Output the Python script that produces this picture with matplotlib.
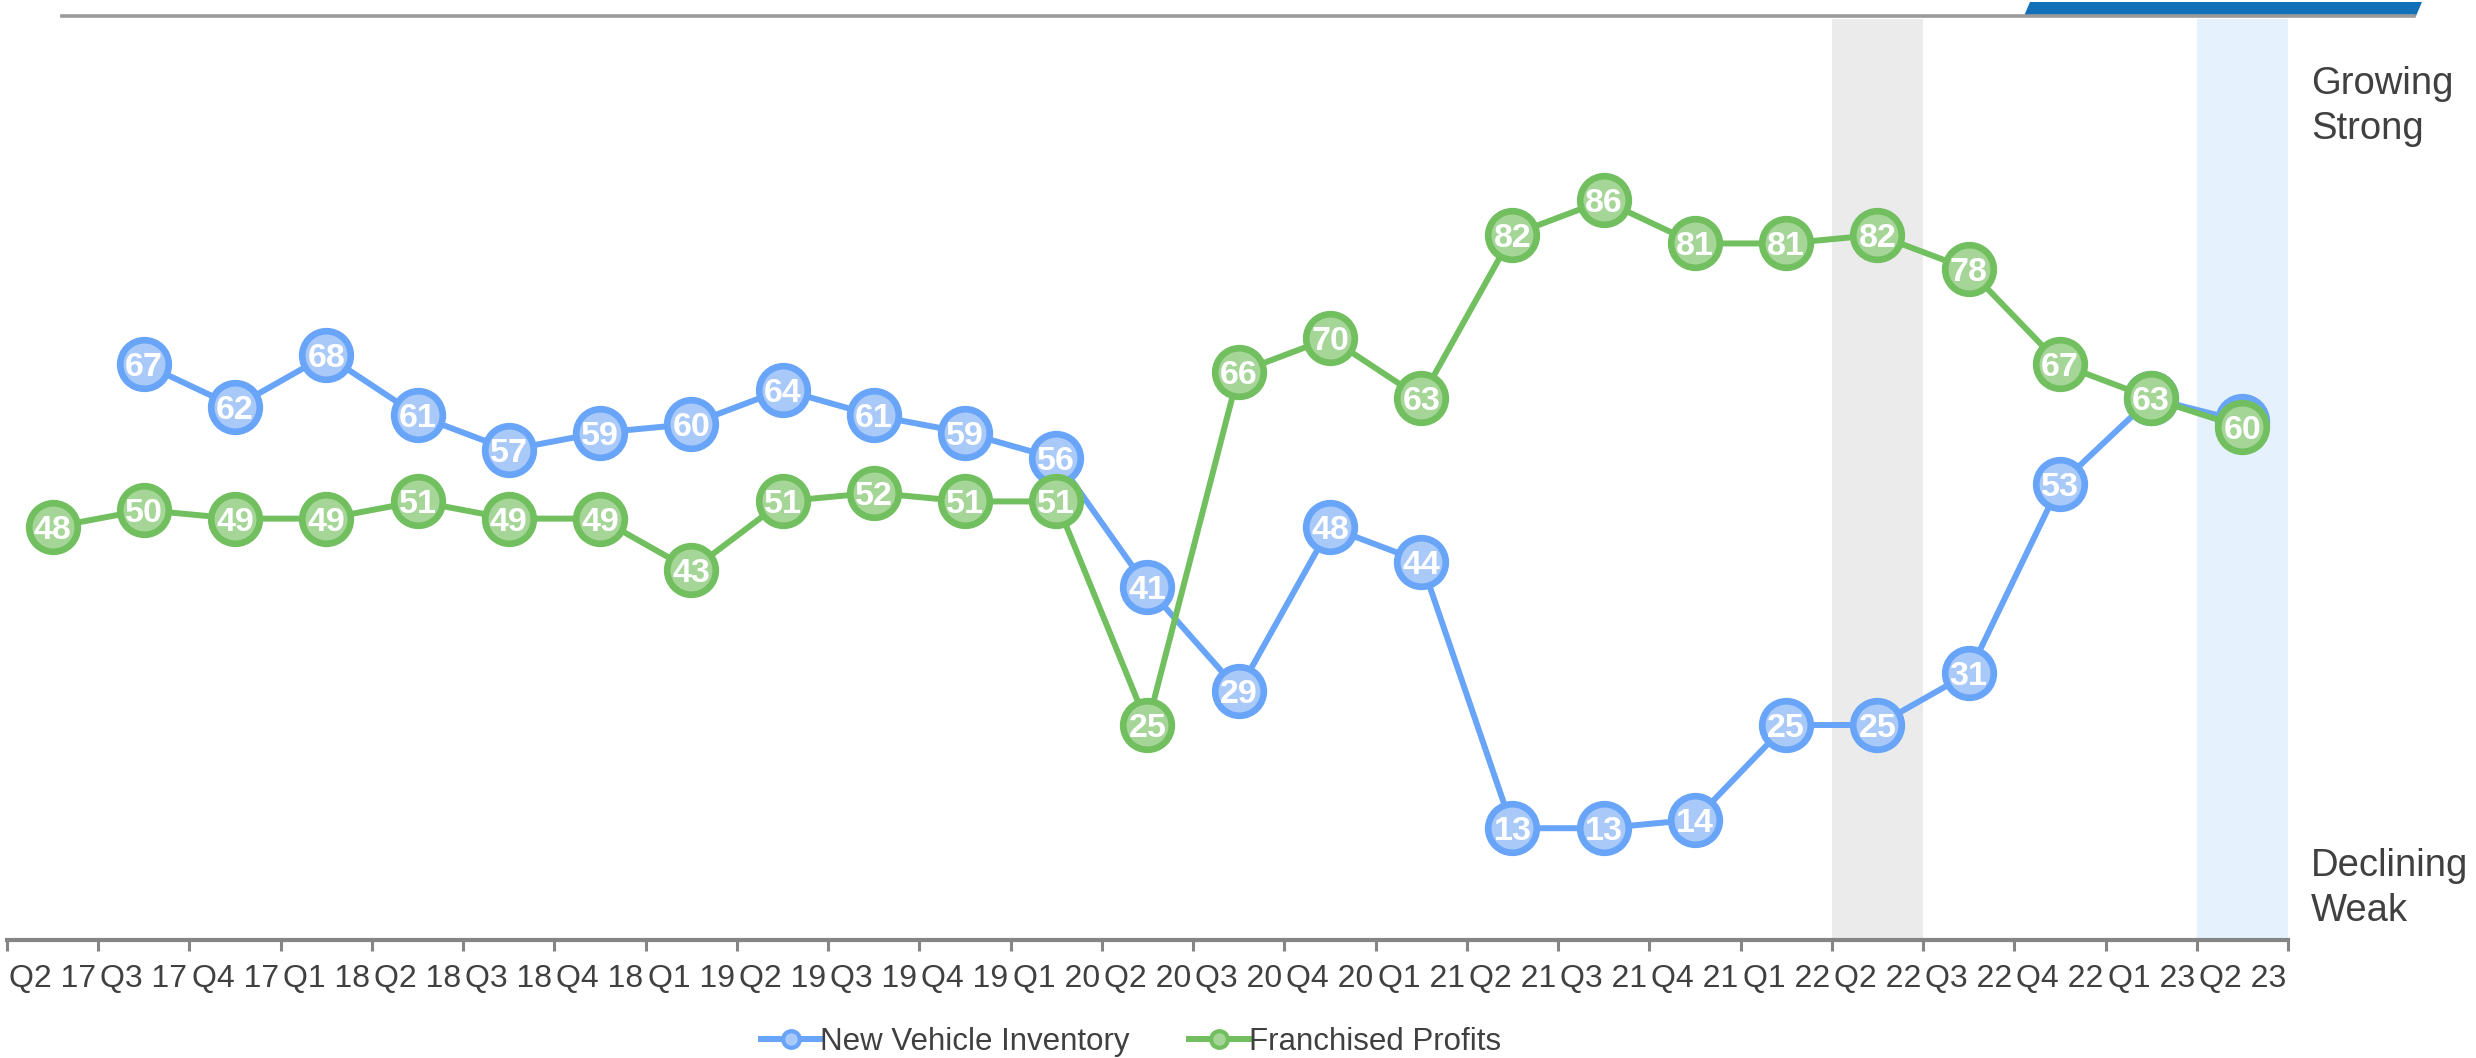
import numpy as np
import matplotlib
matplotlib.use('Agg')
import matplotlib.pyplot as plt
from matplotlib.lines import Line2D
from matplotlib.patches import Polygon

plt.rcParams['font.family'] = ['Liberation Sans', 'DejaVu Sans']

#------------------------------------------------------------------------------
quarters = ['Q2 17', 'Q3 17', 'Q4 17', 'Q1 18', 'Q2 18', 'Q3 18', 'Q4 18',
            'Q1 19', 'Q2 19', 'Q3 19', 'Q4 19', 'Q1 20', 'Q2 20', 'Q3 20',
            'Q4 20', 'Q1 21', 'Q2 21', 'Q3 21', 'Q4 21', 'Q1 22', 'Q2 22',
            'Q3 22', 'Q4 22', 'Q1 23', 'Q2 23']
# inventory series starts one quarter later (Q3 17)
inventory = [67, 62, 68, 61, 57, 59, 60, 64, 61, 59, 56, 41, 29, 48, 44,
             13, 13, 14, 25, 25, 31, 53, 63, 60.3]
profits = [48, 50, 49, 49, 51, 49, 49, 43, 51, 52, 51, 51, 25, 66, 70, 63,
           82, 86, 81, 81, 82, 78, 67, 63, 59.6]
gray_band = 'Q2 22'
blue_band = 'Q2 23'

BLUE, BLUE_FACE = '#68a4f7', '#a9c9f9'
GREEN, GREEN_FACE = '#71bf5f', '#a5d698'
TXT = '#404040'
AXC = '#858585'

W, H = 2476, 1058
fig = plt.figure(figsize=(W/100, H/100), dpi=100)
ax = fig.add_axes([7/W, 1-940/H, (2288-7)/W, (940-19)/H])

x = np.arange(len(quarters))
xi = x[len(quarters)-len(inventory):]

gi = quarters.index(gray_band)
bi = quarters.index(blue_band)
ax.axvspan(gi-0.5, gi+0.5, color='#ebebeb', lw=0, zorder=0)
ax.axvspan(bi-0.5, bi+0.5, color='#e5f1fd', lw=0, zorder=0)

ms, mew, lw = 35, 4.8, 4.3
ax.plot(xi, inventory, color=BLUE, lw=lw, marker='o', ms=ms, mfc=BLUE_FACE,
        mec=BLUE, mew=mew, zorder=3, label='New Vehicle Inventory')
for a, b in zip(xi, inventory):
    ax.text(a, b, str(int(round(b))), ha='center', va='center_baseline', color='white',
            fontsize=24.5, fontweight='bold', zorder=3.5)
ax.plot(x, profits, color=GREEN, lw=lw, marker='o', ms=ms, mfc=GREEN_FACE,
        mec=GREEN, mew=mew, zorder=4, label='Franchised Profits')
for a, b in zip(x, profits):
    ax.text(a, b, str(int(round(b))), ha='center', va='center_baseline', color='white',
            fontsize=24.5, fontweight='bold', zorder=4.5)

ax.set_xlim(-0.5, len(quarters)-0.5)
ax.set_ylim(0, 107.1)
ax.set_yticks([])
for s in ['top', 'right', 'left']:
    ax.spines[s].set_visible(False)
ax.spines['bottom'].set_color(AXC)
ax.spines['bottom'].set_linewidth(3)
ax.set_xticks(np.arange(len(quarters)+1)-0.5)
ax.set_xticklabels([])
ax.tick_params(axis='x', which='major', length=8, width=2.2, color=AXC)
ax.set_xticks(x, minor=True)
ax.set_xticklabels(quarters, minor=True, fontsize=23, color=TXT)
ax.tick_params(axis='x', which='minor', length=0, pad=17)
ax.patch.set_alpha(0)

fig.text(2311/W, 1-66/H, 'Growing\nStrong', fontsize=27.5, color=TXT,
         va='top', ha='left', linespacing=1.32)
fig.text(2311/W, 1-848/H, 'Declining\nWeak', fontsize=27.5, color=TXT,
         va='top', ha='left', linespacing=1.32)

# top decoration
fig.add_artist(Line2D([62/W, 2414/W], [1-16/H, 1-16/H], color='#9a9a9a', lw=2.6))
fig.add_artist(Polygon([(2024/W, 1-16/H), (2416/W, 1-16/H), (2422/W, 1-2/H), (2030/W, 1-2/H)],
                       closed=True, color='#1170b8', lw=0, transform=fig.transFigure))

hl = [Line2D([], [], color=BLUE, lw=lw, marker='o', ms=12, mfc=BLUE_FACE, mec=BLUE, mew=3),
      Line2D([], [], color=GREEN, lw=lw, marker='o', ms=12, mfc=GREEN_FACE, mec=GREEN, mew=3)]
leg = fig.legend(hl, ['New Vehicle Inventory', 'Franchised Profits'], loc='center',
                 bbox_to_anchor=(1131/W, 1-1042/H), ncol=2, frameon=False,
                 fontsize=22.5, handlelength=1.9, handletextpad=0.0, columnspacing=1.9)
for t in leg.get_texts():
    t.set_color(TXT)

fig.savefig('out.png', dpi=100)
